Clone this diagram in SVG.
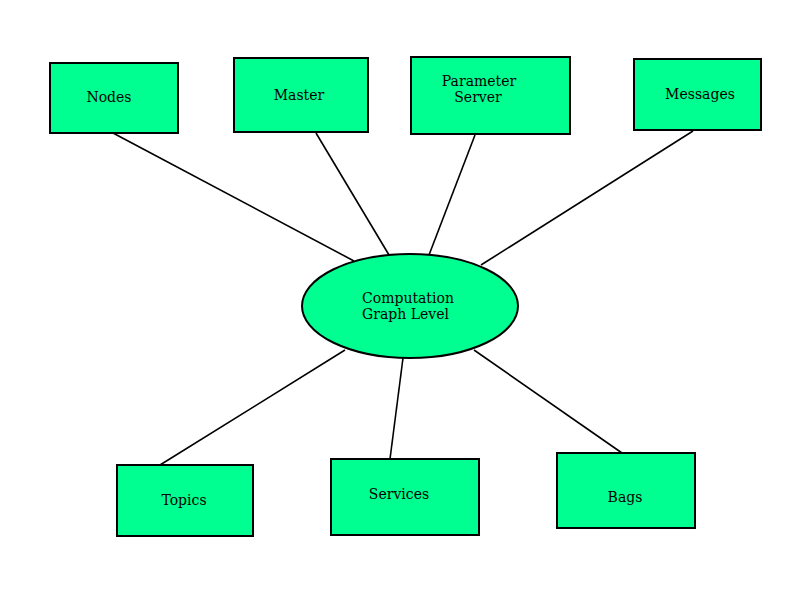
<svg xmlns="http://www.w3.org/2000/svg" width="800" height="600" viewBox="0 0 800 600">
<style>
.n{fill:#00ff91;stroke:#000;stroke-width:2}
.t{font-family:"DejaVu Serif",serif;font-size:14px;fill:#000;text-anchor:middle}
.c line{stroke:#000;stroke-width:1.6}
</style>
<rect width="800" height="600" fill="#fff"/>
<g id="connectors" class="c">
<line x1="113" y1="133" x2="354" y2="261"/>
<line x1="316" y1="133" x2="389" y2="255"/>
<line x1="475" y1="135" x2="429" y2="255"/>
<line x1="693" y1="131" x2="481" y2="265"/>
<line x1="160" y1="465" x2="345" y2="350"/>
<line x1="390" y1="459" x2="403" y2="358"/>
<line x1="622" y1="453" x2="474" y2="350"/>
</g>
<g id="nodes"><rect class="n" x="50" y="63" width="128" height="70"/><text class="t" x="109" y="102">Nodes</text></g>
<g id="master"><rect class="n" x="234" y="58" width="134" height="74"/><text class="t" x="299" y="100">Master</text></g>
<g id="parameter-server"><rect class="n" x="411" y="57" width="159" height="77"/><text class="t" x="479" y="86">Parameter</text><text class="t" x="478" y="102">Server</text></g>
<g id="messages"><rect class="n" x="634" y="59" width="127" height="71"/><text class="t" x="700" y="99">Messages</text></g>
<g id="computation-graph-level"><ellipse class="n" cx="410" cy="306" rx="108" ry="52"/><text class="t" x="362" y="303" style="text-anchor:start">Computation</text><text class="t" x="362" y="319" style="text-anchor:start">Graph  Level</text></g>
<g id="topics"><rect class="n" x="117" y="465" width="136" height="71"/><text class="t" x="184" y="505">Topics</text></g>
<g id="services"><rect class="n" x="331" y="459" width="148" height="76"/><text class="t" x="399" y="499">Services</text></g>
<g id="bags"><rect class="n" x="557" y="453" width="138" height="75"/><text class="t" x="625" y="502">Bags</text></g>
</svg>
